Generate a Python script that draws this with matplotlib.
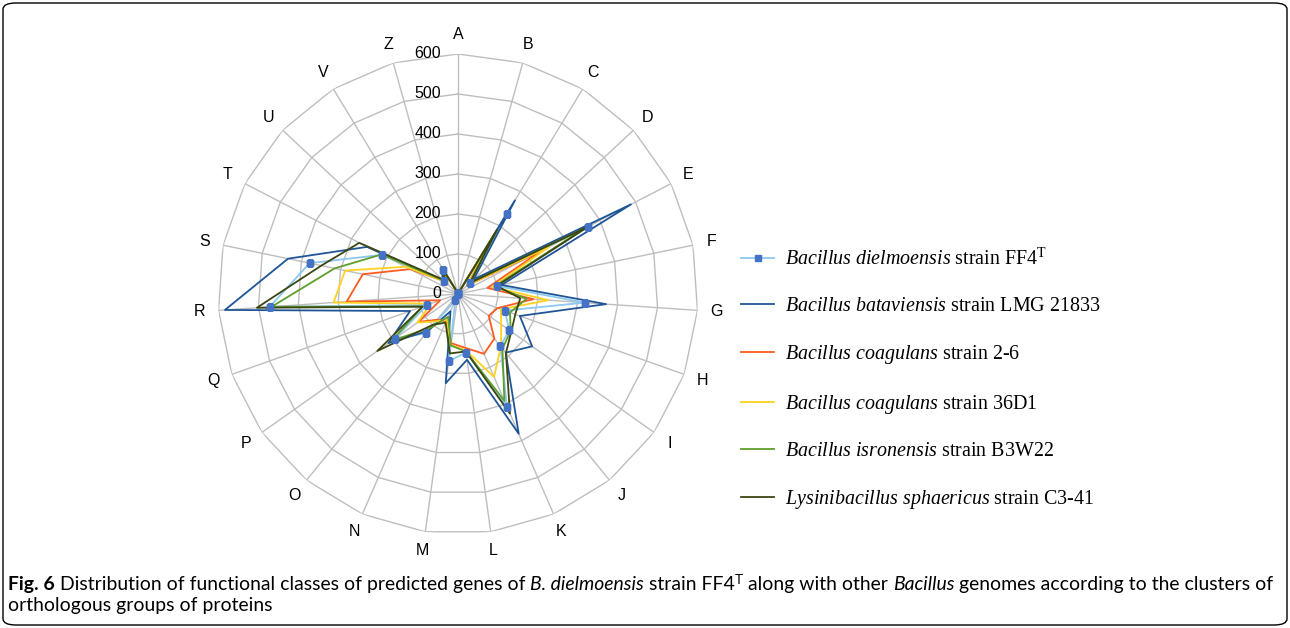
import numpy as np
import matplotlib
matplotlib.use("Agg")
import matplotlib.pyplot as plt
import matplotlib.transforms as mtransforms
from matplotlib.patches import FancyBboxPatch

plt.rcParams['mathtext.fontset'] = 'custom'
plt.rcParams['mathtext.rm'] = 'Liberation Serif'
plt.rcParams['mathtext.it'] = 'Liberation Serif:italic'

# COG classes, clockwise from the top
categories = ["A", "B", "C", "D", "E", "F", "G", "H", "I", "J", "K", "L",
              "M", "N", "O", "P", "Q", "R", "S", "T", "U", "V", "Z"]
rings = [0, 100, 200, 300, 400, 500, 600]

#                A  B   C    D   E    F    G    H    I    J    K    L    M    N   O    P    Q   R    S    T    U   V   Z
dielmoensis  = [2, 0, 235, 40, 365,  99, 317, 124, 157, 168, 307, 148, 169, 17, 127, 193,  82, 472, 379, 213, 49, 70, 3]
bataviensis  = [2, 3, 274, 54, 487, 111, 371, 164, 227, 189, 381, 166, 225, 47, 119, 213, 127, 584, 434, 256, 52, 80, 4]
coag_2_6     = [1, 1, 155, 31, 234,  75, 189, 105,  94, 144, 163, 136, 124, 75,  83, 121,  47, 279, 243, 135, 47, 57, 2]
coag_36d1    = [1, 1, 166, 33, 256,  88, 226, 114, 132, 170, 226, 142, 129, 71,  88, 124,  72, 312, 288, 148, 47, 57, 2]
isronensis   = [1, 1, 181, 39, 358,  93, 172, 138, 161, 176, 291, 145, 130, 62, 109, 202,  94, 467, 315, 215, 50, 60, 3]
sphaericus   = [1, 1, 189, 41, 368,  99, 156, 152, 163, 190, 326, 145, 150, 78,  99, 247,  94, 504, 349, 278, 54, 60, 3]

labels = [r'$Bacillus\ dielmoensis$ strain FF4$^{\mathrm{T}}$',
          r'$Bacillus\ bataviensis$ strain LMG 21833',
          r'$Bacillus\ coagulans$ strain 2-6',
          r'$Bacillus\ coagulans$ strain 36D1',
          r'$Bacillus\ isronensis$ strain B3W22',
          r'$Lysinibacillus\ sphaericus$ strain C3-41']
colors = ['#8CC8F0', '#1F5597', '#FF5A1F', '#FFD11F', '#5E9E2C', '#3B4712']
values = [dielmoensis, bataviensis, coag_2_6, coag_36d1, isronensis, sphaericus]

fig = plt.figure(figsize=(12.9, 6.28), dpi=100)
ax = fig.add_axes([218 / 1290, 94 / 628, 480 / 1290, 480 / 628], projection='polar')
ax.set_theta_zero_location('N')
ax.set_theta_direction(-1)
ax.set_ylim(0, 600)
ax.grid(False)
ax.set_xticks([])
ax.set_yticks([])
ax.spines['polar'].set_visible(False)
ax.patch.set_visible(False)

n = len(categories)
theta = np.arange(n) * 2 * np.pi / n
theta_c = np.append(theta, theta[0])

grid_c = '#BEBEBE'
for r in rings[1:]:
    ax.plot(theta_c, [r] * (n + 1), color=grid_c, lw=1.0, zorder=1)
for th in theta:
    ax.plot([th, th], [0, rings[-1]], color=grid_c, lw=1.0, zorder=1)

for i, cat in enumerate(categories):
    ax.text(theta[i], 648, cat, ha='center', va='center', fontsize=11.5,
            family='Liberation Sans')

trans = mtransforms.offset_copy(ax.transData, fig=fig, x=-17, y=0, units='dots')
for r in rings:
    ax.text(0, r, str(r), transform=trans, ha='right', va='center',
            fontsize=11.5, family='Liberation Sans', zorder=6)

handles = []
for k, (vals, col, lab) in enumerate(zip(values, colors, labels)):
    v = np.append(vals, vals[0])
    if k == 0:
        h, = ax.plot(theta_c, v, color=col, lw=1.3, marker='s', markersize=5,
                     markerfacecolor='#4472C4', markeredgecolor='#4472C4',
                     label=lab, zorder=2)
    else:
        h, = ax.plot(theta_c, v, color=col, lw=1.3, label=lab, zorder=2 + k)
    handles.append(h)
# markers of the first series sit on top of everything
ax.plot(theta, dielmoensis, ls='none', marker='s', markersize=5,
        color='#4472C4', zorder=10)

leg = ax.legend(handles=handles, loc='upper left',
                bbox_to_anchor=(741 / 1290, 1 - 249 / 628),
                bbox_transform=fig.transFigure, frameon=False,
                prop={'family': 'Liberation Serif', 'size': 14.4},
                handlelength=1.65, handletextpad=0.55, labelspacing=1.34,
                borderpad=0, borderaxespad=0, numpoints=1)

# caption, written as runs of differently styled text
renderer = fig.canvas.get_renderer()
cap_family = 'Lato'


def run_width(txt, size, **kw):
    t = fig.text(0, 0, txt, fontsize=size, family=cap_family, **kw)
    w = t.get_window_extent(renderer).width
    t.remove()
    return w


def put_runs(runs, x_px, base_px, size, draw=True):
    sp = run_width('a a', size) - run_width('aa', size)
    x = x_px
    for txt, kw in runs:
        if txt == ' ':
            x += sp
            continue
        kw = dict(kw)
        fs = size * kw.pop('scale', 1.0)
        dy = kw.pop('rise', 0.0) * size
        t = fig.text(x / 1290, 1 - (base_px - dy) / 628, txt, fontsize=fs,
                     family=cap_family, va='baseline', ha='left', **kw)
        x = t.get_window_extent(renderer).x1
        if not draw:
            t.remove()
    return x


line1 = [("Fig. 6", {'weight': 'bold'}), (' ', {}),
         ("Distribution of functional classes of predicted genes of", {}), (' ', {}),
         ("B. dielmoensis", {'style': 'italic'}), (' ', {}),
         ("strain FF4", {}), ("T", {'scale': 0.7, 'rise': 0.45}), (' ', {}),
         ("along with other", {}), (' ', {}),
         ("Bacillus", {'style': 'italic'}), (' ', {}),
         ("genomes according to the clusters of", {})]
line2 = [("orthologous groups of proteins", {})]

# size the caption so the first line spans the same width as the original
probe = put_runs(line1, 8, 600, 12, draw=False) - 8
cap_size = 12 * 1258 / probe
put_runs(line1, 8, 590, cap_size)
put_runs(line2, 8, 611, cap_size)

border = FancyBboxPatch((3 / 1290, 3 / 628), 1284 / 1290, 622 / 628,
                        boxstyle='round,pad=0,rounding_size=0.01',
                        transform=fig.transFigure, fill=False,
                        edgecolor='black', lw=1.0)
fig.add_artist(border)

fig.savefig('out.png', dpi=100)
